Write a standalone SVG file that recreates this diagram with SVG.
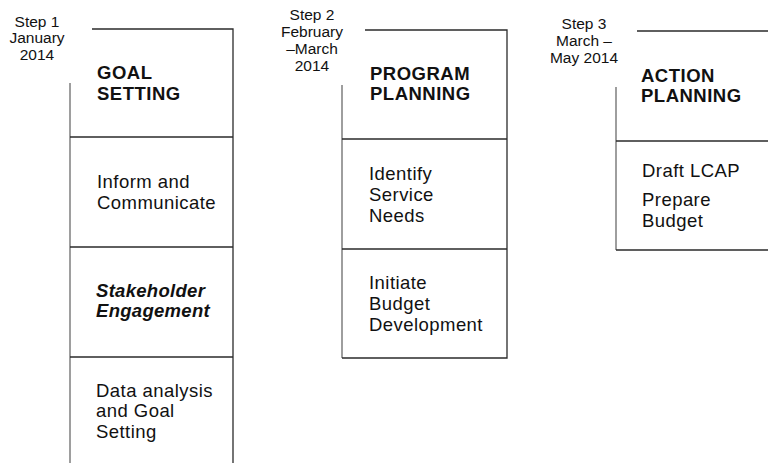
<svg xmlns="http://www.w3.org/2000/svg" width="768" height="463" viewBox="0 0 768 463">
<style>
.ln{stroke:#2b2b2b;stroke-width:1.3;fill:none}
.lg{stroke:#6a6a6a;stroke-width:1.3;fill:none}
.step{font-family:"Liberation Sans",Arial,sans-serif;font-size:15.5px;fill:#111;text-anchor:middle}
.hd{font-family:"Liberation Sans",Arial,sans-serif;font-size:18.5px;font-weight:bold;fill:#111;letter-spacing:0.5px}
.tx{font-family:"Liberation Sans",Arial,sans-serif;font-size:18.5px;fill:#111;letter-spacing:0.45px}
.bi{font-family:"Liberation Sans",Arial,sans-serif;font-size:18.5px;font-weight:bold;font-style:italic;fill:#111;letter-spacing:0.3px}
</style>
<rect width="768" height="463" fill="#fff"/>
<g id="connectors">
<path class="lg" d="M70,83 V463"/>
<path class="ln" d="M92,29 H233 V463"/>
<path class="ln" d="M70,137 H233 M70,247 H233 M70,357 H233"/>
<path class="lg" d="M342,85 V358"/>
<path class="ln" d="M365,30 H507 V358 H342"/>
<path class="ln" d="M342,139 H507 M342,249 H507"/>
<path class="lg" d="M616,87 V250"/>
<path class="ln" d="M637,31 H768 M616,141 H768 M616,250 H768"/>
</g>
<g id="step1">
<text class="step" x="37" y="27">Step 1</text>
<text class="step" x="37" y="43">January</text>
<text class="step" x="37" y="60">2014</text>
</g>
<g id="goal-setting">
<text class="hd" x="97" y="79">GOAL</text>
<text class="hd" x="97" y="100">SETTING</text>
</g>
<g id="inform">
<text class="tx" x="97" y="188">Inform and</text>
<text class="tx" x="97" y="209">Communicate</text>
</g>
<g id="stakeholder">
<text class="bi" x="96" y="297">Stakeholder</text>
<text class="bi" x="96" y="317">Engagement</text>
</g>
<g id="data-analysis">
<text class="tx" x="96" y="397">Data analysis</text>
<text class="tx" x="96" y="417">and Goal</text>
<text class="tx" x="96" y="438">Setting</text>
</g>
<g id="step2">
<text class="step" x="312" y="20">Step 2</text>
<text class="step" x="312" y="37">February</text>
<text class="step" x="312" y="54">–March</text>
<text class="step" x="312" y="71">2014</text>
</g>
<g id="program-planning">
<text class="hd" x="370" y="80">PROGRAM</text>
<text class="hd" x="370" y="100">PLANNING</text>
</g>
<g id="identify">
<text class="tx" x="369" y="180">Identify</text>
<text class="tx" x="369" y="201">Service</text>
<text class="tx" x="369" y="222">Needs</text>
</g>
<g id="initiate">
<text class="tx" x="369" y="289">Initiate</text>
<text class="tx" x="369" y="310">Budget</text>
<text class="tx" x="369" y="331">Development</text>
</g>
<g id="step3">
<text class="step" x="584" y="29">Step 3</text>
<text class="step" x="584" y="46">March –</text>
<text class="step" x="584" y="63">May 2014</text>
</g>
<g id="action-planning">
<text class="hd" x="641" y="82">ACTION</text>
<text class="hd" x="641" y="102">PLANNING</text>
</g>
<g id="draft">
<text class="tx" x="642" y="177">Draft LCAP</text>
<text class="tx" x="642" y="206">Prepare</text>
<text class="tx" x="642" y="227">Budget</text>
</g>
</svg>
